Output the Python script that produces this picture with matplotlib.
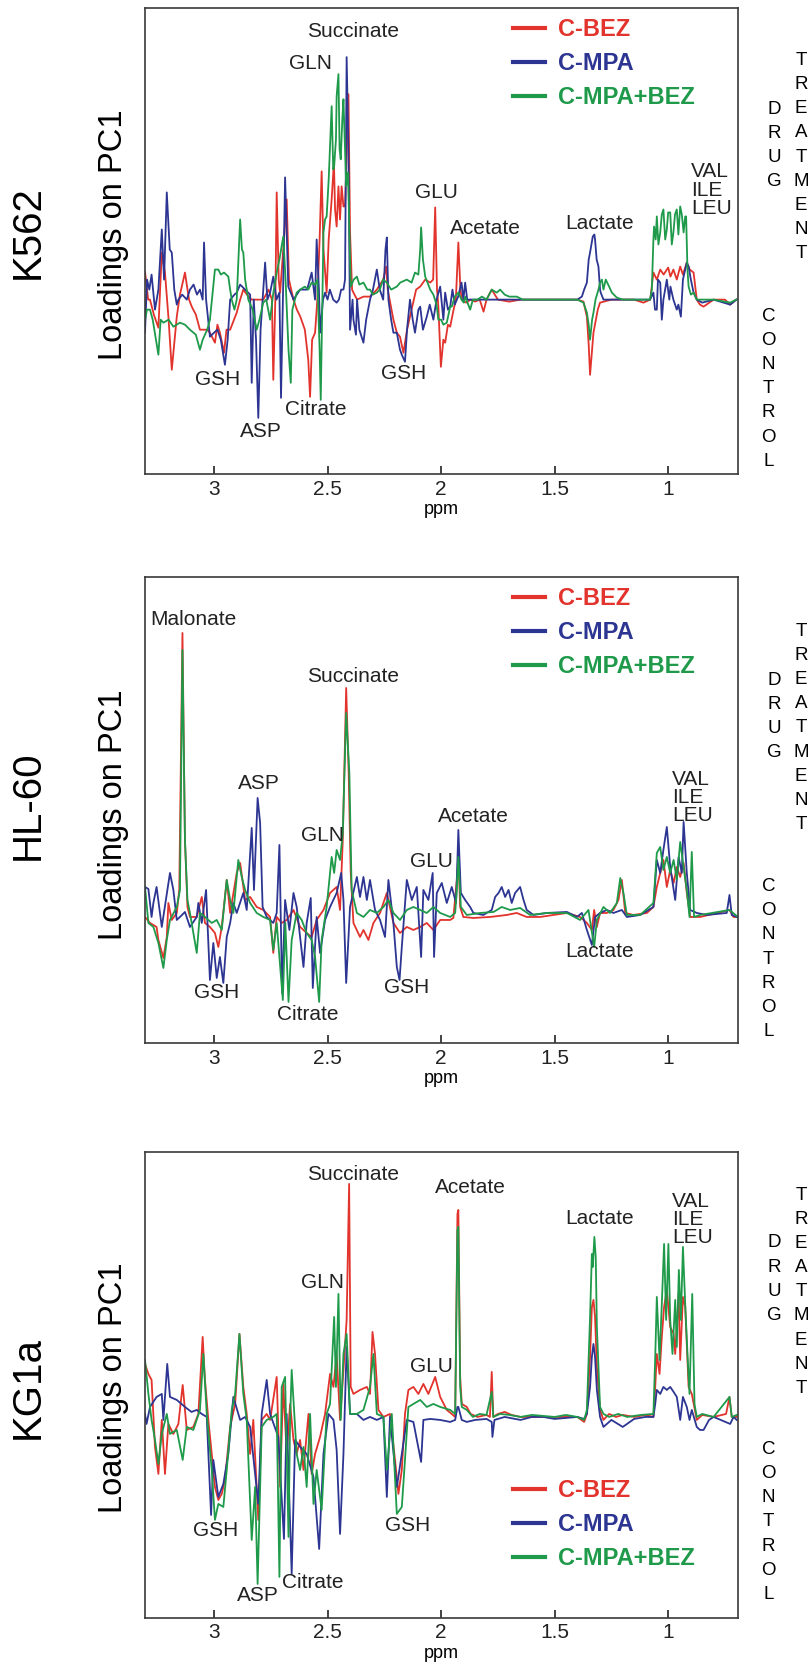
import numpy as np
import matplotlib
matplotlib.use("Agg")
import matplotlib.pyplot as plt

plt.rcParams['font.family'] = ['Liberation Sans', 'DejaVu Sans']

RED = '#e2332c'
BLUE = '#2d3592'
GREEN = '#1e9a4a'

series_names = ['C-BEZ', 'C-MPA', 'C-MPA+BEZ']
cell_lines = ['K562', 'HL-60', 'KG1a']
ppm_ticks = [3, 2.5, 2, 1.5, 1]

# loadings on PC1 (arbitrary units), as (ppm, loading)
k562_bez = [(3.304, 28), (3.29, 0), (3.282, 0), (3.265, -15), (3.245, -28), (3.230, 47), (3.216, 27), (3.2, -20),
            (3.186, -70), (3.164, -17), (3.15, 5), (3.128, 27), (3.11, 0), (3.098, -7), (3.08, -15), (3.062, -30),
            (3.03, -30), (3.018, -33), (2.996, -43), (2.985, -25), (2.974, -33), (2.956, -53), (2.945, -30),
            (2.929, -30), (2.90, -13), (2.885, 0), (2.871, 10), (2.855, 5), (2.834, 0), (2.80, 0), (2.783, 0),
            (2.76, 10), (2.745, 0), (2.739, -80), (2.730, 0), (2.724, 107), (2.715, 20), (2.709, 7), (2.695, 50),
            (2.680, 100), (2.670, 20), (2.650, 0), (2.635, -10), (2.62, -17), (2.60, -30), (2.585, -60),
            (2.577, -97), (2.568, -40), (2.555, -33), (2.545, 0), (2.535, 60), (2.526, 128), (2.518, 50),
            (2.504, 7), (2.495, 60), (2.482, 100), (2.472, 137), (2.467, 90), (2.46, 73), (2.452, 113),
            (2.445, 80), (2.438, 113), (2.430, 93), (2.423, 93), (2.415, 150), (2.408, 205), (2.401, 67),
            (2.392, 10), (2.386, 7), (2.37, 0), (2.342, 3), (2.313, 3), (2.283, 10), (2.255, 20), (2.242, 33),
            (2.235, 10), (2.21, -20), (2.195, -33), (2.181, -37), (2.166, -53), (2.15, -30), (2.137, -17),
            (2.11, 10), (2.092, 13), (2.07, 20), (2.048, 17), (2.035, 20), (2.026, 92), (2.018, 10), (2.012, -7),
            (2.001, -67), (1.99, -40), (1.982, -43), (1.97, -25), (1.960, -27), (1.945, -10), (1.935, 0),
            (1.924, 57), (1.915, 10), (1.909, 0), (1.89, -3), (1.87, 0), (1.85, -2), (1.83, 0), (1.813, -12),
            (1.80, 0), (1.777, 10), (1.75, 0), (1.70, -2), (1.65, 0), (1.60, 0), (1.50, 0), (1.40, 0),
            (1.373, -2), (1.358, -17), (1.35, -45), (1.344, -75), (1.335, -50), (1.329, -33), (1.31, -10),
            (1.30, -3), (1.25, 0), (1.2, 0), (1.15, 0), (1.109, -3), (1.079, 0), (1.065, 27), (1.05, 20),
            (1.035, 30), (1.02, 25), (1.0, 32), (0.99, 23), (0.977, 30), (0.962, 20), (0.947, 33), (0.935, 25),
            (0.918, 37), (0.905, 30), (0.888, 27), (0.874, 0), (0.86, -5), (0.844, -7), (0.80, 0), (0.75, 0),
            (0.727, -5), (0.70, 0)]
k562_mpa = [(3.304, -33), (3.295, 20), (3.285, 10), (3.275, 25), (3.26, -10), (3.245, 10), (3.230, 70),
            (3.22, 20), (3.208, 107), (3.195, 50), (3.186, 47), (3.175, 10), (3.164, -5), (3.157, 0), (3.14, 5),
            (3.12, 0), (3.106, 10), (3.09, 15), (3.075, 5), (3.062, 10), (3.05, 0), (3.044, 57), (3.035, 0),
            (3.018, -37), (3.0, -33), (2.985, -30), (2.97, -40), (2.952, -65), (2.94, -40), (2.929, 0),
            (2.91, 5), (2.900, 7), (2.885, 15), (2.863, 10), (2.841, 5), (2.834, -83), (2.825, 0), (2.815, -40),
            (2.805, -118), (2.795, -30), (2.775, 37), (2.765, 0), (2.753, 7), (2.739, 23), (2.725, 0),
            (2.712, 7), (2.705, -98), (2.695, 20), (2.687, 122), (2.673, 13), (2.650, 0), (2.621, 10),
            (2.606, 10), (2.590, 10), (2.570, 27), (2.555, 0), (2.548, 60), (2.538, 10), (2.533, -33),
            (2.52, 0), (2.511, 7), (2.50, 0), (2.49, 10), (2.475, 0), (2.46, -3), (2.45, 0), (2.44, 10),
            (2.43, 10), (2.423, 20), (2.416, 242), (2.408, 150), (2.401, -30), (2.39, 0), (2.386, -20),
            (2.375, -35), (2.37, 0), (2.36, -30), (2.342, -43), (2.33, -20), (2.313, 0), (2.30, 10),
            (2.283, 30), (2.27, 10), (2.255, 0), (2.245, 50), (2.239, 62), (2.232, 0), (2.22, -20),
            (2.210, -33), (2.195, -33), (2.181, -50), (2.173, -55), (2.159, -62), (2.15, -30), (2.137, 0),
            (2.125, -20), (2.115, -33), (2.10, -10), (2.092, -7), (2.08, -30), (2.063, -17), (2.05, -5),
            (2.034, -20), (2.02, 0), (2.004, 13), (1.99, -20), (1.982, 7), (1.97, -10), (1.960, -7), (1.95, 10),
            (1.94, -5), (1.925, 3), (1.91, 17), (1.902, 0), (1.894, 17), (1.885, 0), (1.872, 0), (1.85, 0),
            (1.80, 0), (1.70, 0), (1.60, 0), (1.50, 0), (1.40, 0), (1.380, 3), (1.37, 10), (1.358, 17),
            (1.35, 40), (1.344, 47), (1.332, 63), (1.325, 65), (1.322, 60), (1.315, 40), (1.307, 33), (1.30, 10),
            (1.297, 7), (1.285, 0), (1.2, 0), (1.15, 0), (1.08, 0), (1.065, 7), (1.058, -10), (1.05, -10),
            (1.045, 20), (1.035, 17), (1.028, -20), (1.021, 0), (1.006, 20), (0.995, 0), (0.99, 13),
            (0.977, 0), (0.962, -10), (0.955, -5), (0.944, -17), (0.935, 20), (0.918, 37), (0.91, 33),
            (0.90, 20), (0.888, 7), (0.874, 0), (0.85, -3), (0.80, 0), (0.727, -5), (0.70, 0)]
k562_combo = [(3.304, -20), (3.295, -10), (3.282, -10), (3.27, -20), (3.245, -55), (3.235, -20), (3.223, -23),
              (3.20, -20), (3.179, -27), (3.150, -23), (3.128, -25), (3.106, -30), (3.08, -35), (3.062, -50),
              (3.05, -40), (3.03, -30), (3.018, -20), (3.005, 10), (2.996, 30), (2.981, 30), (2.97, 25),
              (2.956, 27), (2.937, 23), (2.929, 10), (2.922, 0), (2.91, -10), (2.900, 0), (2.885, 80),
              (2.877, 50), (2.871, 47), (2.863, 20), (2.849, 0), (2.83, -10), (2.812, -30), (2.80, -20),
              (2.783, -3), (2.77, 0), (2.753, -20), (2.74, 5), (2.724, 27), (2.712, 40), (2.695, 63), (2.685, 20),
              (2.672, -50), (2.662, -83), (2.655, -10), (2.636, 7), (2.621, 10), (2.60, 13), (2.585, 10),
              (2.570, 17), (2.555, 15), (2.545, 20), (2.535, -50), (2.530, -100), (2.522, 10), (2.518, 67),
              (2.511, 80), (2.504, 83), (2.495, 120), (2.482, 193), (2.475, 130), (2.471, 133), (2.463, 160),
              (2.460, 203), (2.452, 225), (2.447, 150), (2.442, 140), (2.435, 180), (2.430, 200), (2.423, 150),
              (2.418, 113), (2.410, 127), (2.403, 60), (2.398, 13), (2.385, 20), (2.371, 23), (2.36, 15),
              (2.342, 17), (2.325, 10), (2.313, 10), (2.3, 5), (2.283, 7), (2.27, 10), (2.255, 20), (2.239, 17),
              (2.22, 10), (2.195, 13), (2.18, 17), (2.151, 20), (2.13, 17), (2.115, 27), (2.10, 25), (2.092, 50),
              (2.088, 72), (2.08, 40), (2.070, 23), (2.06, 17), (2.048, 10), (2.034, 5), (2.02, -5), (2.012, -20),
              (2.0, -20), (1.990, -25), (1.975, -23), (1.96, -7), (1.953, -7), (1.94, 3), (1.924, 7), (1.91, 0),
              (1.90, -3), (1.894, 3), (1.872, -10), (1.86, 0), (1.84, 0), (1.82, 3), (1.80, 0), (1.777, 10),
              (1.755, 7), (1.74, 10), (1.72, 5), (1.70, 3), (1.667, 3), (1.64, 0), (1.60, 0), (1.50, 0),
              (1.40, 0), (1.373, -3), (1.358, -13), (1.35, -25), (1.344, -40), (1.335, -20), (1.329, -13),
              (1.32, 0), (1.307, 10), (1.30, 17), (1.292, 20), (1.285, 10), (1.275, 20), (1.26, 13), (1.248, 7),
              (1.226, 2), (1.2, 0), (1.1, 0), (1.08, 0), (1.072, 10), (1.065, 60), (1.062, 73), (1.055, 60),
              (1.050, 83), (1.043, 55), (1.035, 67), (1.028, 85), (1.021, 90), (1.013, 60), (1.006, 70),
              (1.0, 87), (0.991, 87), (0.984, 55), (0.977, 67), (0.97, 85), (0.962, 90), (0.955, 65),
              (0.947, 93), (0.94, 85), (0.932, 67), (0.925, 83), (0.921, 83), (0.915, 30), (0.910, 13),
              (0.90, 5), (0.888, 7), (0.874, 0), (0.80, 0), (0.727, -3), (0.70, 0)]

hl60_bez = [(3.304, 0), (3.282, -6), (3.253, -10), (3.245, -23), (3.223, -41), (3.208, -20), (3.201, 14),
            (3.186, -3), (3.164, 4), (3.153, 27), (3.139, 284), (3.128, 77), (3.117, 10), (3.106, 0), (3.076, 0),
            (3.054, 20), (3.040, -6), (3.018, -10), (2.996, -16), (2.981, -30), (2.966, -10), (2.944, 37),
            (2.929, 4), (2.900, 44), (2.885, 54), (2.863, 17), (2.841, 20), (2.812, 10), (2.783, 7), (2.753, 0),
            (2.739, -36), (2.724, 0), (2.702, -6), (2.680, -3), (2.650, 7), (2.621, -10), (2.592, -16),
            (2.570, -20), (2.548, -3), (2.518, 7), (2.489, 24), (2.460, 30), (2.445, 7), (2.433, 77),
            (2.418, 229), (2.407, 144), (2.398, 44), (2.386, -6), (2.357, -20), (2.342, -13), (2.320, -23),
            (2.298, -6), (2.269, 4), (2.239, 24), (2.210, -6), (2.181, -16), (2.151, -10), (2.122, -13),
            (2.092, -10), (2.063, -6), (2.034, -13), (2.004, -3), (1.960, -3), (1.946, -1), (1.928, 44),
            (1.924, 64), (1.916, 10), (1.902, 0), (1.858, -1), (1.784, 0), (1.711, 2), (1.667, 4), (1.623, 0),
            (1.564, 0), (1.446, 4), (1.388, 0), (1.358, -6), (1.336, -13), (1.326, 7), (1.314, -10),
            (1.300, 4), (1.270, 4), (1.241, 7), (1.219, 17), (1.204, 37), (1.189, 4), (1.153, 2), (1.094, 4),
            (1.065, 10), (1.050, 30), (1.035, 44), (1.021, 57), (1.006, 30), (0.991, 47), (0.976, 34),
            (0.962, 50), (0.947, 40), (0.932, 54), (0.918, 24), (0.903, 0), (0.859, 0), (0.730, 7), (0.712, 0),
            (0.698, 0)]
hl60_mpa = [(3.304, 30), (3.289, 28), (3.275, 0), (3.267, 14), (3.253, 30), (3.230, -10), (3.194, 44),
            (3.179, 27), (3.164, -3), (3.150, 0), (3.128, 5), (3.106, -10), (3.076, 0), (3.069, 14), (3.054, -6),
            (3.035, 27), (3.018, -63), (3.003, -26), (2.988, -61), (2.974, -40), (2.959, -66), (2.944, -20),
            (2.929, -6), (2.915, 14), (2.900, 4), (2.871, 24), (2.856, 7), (2.834, 89), (2.824, 27),
            (2.808, 119), (2.797, 94), (2.786, 10), (2.768, 0), (2.739, -6), (2.724, 4), (2.712, 72),
            (2.700, -76), (2.687, 17), (2.668, -13), (2.650, 24), (2.636, 10), (2.606, -50), (2.592, -6),
            (2.574, 19), (2.565, -71), (2.548, 0), (2.533, -36), (2.511, -3), (2.489, 10), (2.460, 24),
            (2.440, 44), (2.430, 17), (2.418, -66), (2.401, 10), (2.371, 40), (2.357, 20), (2.342, 40),
            (2.327, 17), (2.313, 37), (2.291, 7), (2.269, -3), (2.247, -20), (2.232, 37), (2.210, -6),
            (2.195, -50), (2.183, -63), (2.173, -30), (2.151, 37), (2.129, 17), (2.107, 30), (2.088, -40),
            (2.078, 27), (2.056, 17), (2.037, 44), (2.031, -40), (2.019, 24), (1.997, 34), (1.975, 14),
            (1.953, 30), (1.934, 14), (1.924, 87), (1.913, 24), (1.894, 17), (1.872, 10), (1.858, 4),
            (1.814, 2), (1.777, 7), (1.762, 20), (1.747, 24), (1.733, 30), (1.718, 20), (1.703, 27), (1.689, 14),
            (1.674, 24), (1.652, 30), (1.637, 17), (1.623, 7), (1.593, 2), (1.534, 4), (1.446, 5), (1.402, 0),
            (1.380, 4), (1.358, -13), (1.336, -28), (1.322, 0), (1.300, 4), (1.270, 7), (1.241, 4), (1.204, 7),
            (1.182, 0), (1.123, 2), (1.065, 10), (1.050, 57), (1.035, 44), (1.021, 67), (1.006, 90),
            (0.991, 50), (0.969, 17), (0.954, 60), (0.940, 44), (0.932, 95), (0.918, 44), (0.903, 7),
            (0.874, 4), (0.830, 2), (0.742, 4), (0.730, 22), (0.720, 2), (0.698, 0)]
hl60_combo = [(3.304, 30), (3.289, -6), (3.267, -10), (3.245, -26), (3.223, -51), (3.208, -23), (3.194, -3),
              (3.164, 10), (3.150, 27), (3.139, 267), (3.128, 77), (3.117, 17), (3.106, 4), (3.076, -36),
              (3.062, 4), (3.040, 0), (3.010, -6), (2.988, -3), (2.966, -13), (2.944, 37), (2.929, 17),
              (2.915, 4), (2.893, 57), (2.878, 40), (2.863, 27), (2.841, 14), (2.812, 4), (2.783, 0),
              (2.753, -3), (2.739, -33), (2.724, -6), (2.697, -83), (2.686, -6), (2.672, -85), (2.658, -23),
              (2.636, 4), (2.614, -3), (2.592, -16), (2.570, -23), (2.555, -40), (2.537, -85), (2.526, -23),
              (2.504, 10), (2.482, 60), (2.471, 44), (2.460, 67), (2.445, 57), (2.433, 84), (2.418, 204),
              (2.404, 144), (2.394, 27), (2.371, 4), (2.342, 0), (2.313, 7), (2.283, 4), (2.254, 10),
              (2.232, 17), (2.210, 4), (2.181, -3), (2.151, 7), (2.122, 10), (2.092, 7), (2.063, 4), (2.034, 10),
              (2.004, 4), (1.960, 0), (1.938, 4), (1.931, 27), (1.924, 60), (1.913, 10), (1.887, 2), (1.828, 4),
              (1.769, 5), (1.733, 10), (1.696, 7), (1.652, 9), (1.608, 2), (1.534, 4), (1.446, 4), (1.388, -3),
              (1.351, 7), (1.326, -30), (1.314, -3), (1.285, 10), (1.256, 4), (1.226, 14), (1.211, 39),
              (1.197, 24), (1.182, 2), (1.123, 2), (1.065, 14), (1.050, 64), (1.035, 70), (1.021, 47),
              (1.006, 60), (0.991, 44), (0.976, 57), (0.962, 37), (0.947, 75), (0.932, 50), (0.918, 27),
              (0.906, 0), (0.896, 65), (0.886, 0), (0.859, 2), (0.730, 7), (0.698, 1)]

kg1a_bez = [(3.304, 53), (3.289, 43), (3.275, 37), (3.260, -30), (3.245, -57), (3.230, -3), (3.216, -57),
            (3.201, -7), (3.179, -17), (3.157, -7), (3.138, 32), (3.120, -13), (3.091, -10), (3.069, 3),
            (3.050, 80), (3.040, 37), (3.025, -3), (3.010, -37), (2.996, -70), (2.981, -83), (2.966, -77),
            (2.952, -63), (2.929, -10), (2.907, 13), (2.888, 83), (2.871, 30), (2.856, 3), (2.841, -37),
            (2.827, -3), (2.805, -103), (2.790, -3), (2.768, 3), (2.753, -3), (2.724, 40), (2.709, -70),
            (2.695, 33), (2.680, -37), (2.665, 13), (2.650, -23), (2.636, -37), (2.621, -23), (2.606, -53),
            (2.584, 3), (2.570, -57), (2.555, -37), (2.533, -20), (2.511, 3), (2.489, 43), (2.474, 30),
            (2.460, 63), (2.445, -3), (2.430, 47), (2.416, 97), (2.405, 233), (2.398, 30), (2.386, 23),
            (2.357, 27), (2.327, 30), (2.313, 23), (2.302, 85), (2.291, 63), (2.276, 7), (2.254, 0), (2.225, 3),
            (2.203, -43), (2.188, -77), (2.173, -53), (2.159, 3), (2.144, 27), (2.122, 30), (2.100, 23),
            (2.078, 33), (2.056, 23), (2.026, 40), (2.004, 20), (1.975, 7), (1.953, 3), (1.938, 0),
            (1.928, 203), (1.924, 207), (1.916, 40), (1.909, 13), (1.887, 10), (1.87, 3), (1.84, 0), (1.80, 2),
            (1.785, 0), (1.777, 45), (1.770, 0), (1.75, 3), (1.72, 5), (1.69, 2), (1.65, 0), (1.60, 0),
            (1.50, 0), (1.40, 0), (1.37, -5), (1.358, 3), (1.344, 60), (1.336, 110), (1.329, 117),
            (1.322, 100), (1.314, 50), (1.300, 7), (1.285, -3), (1.26, 3), (1.23, 0), (1.20, 2), (1.15, 0),
            (1.10, 2), (1.065, 0), (1.057, 30), (1.050, 63), (1.038, 43), (1.028, 80), (1.018, 110),
            (1.006, 127), (0.991, 90), (0.976, 83), (0.969, 63), (0.954, 123), (0.947, 57), (0.935, 120),
            (0.925, 110), (0.910, 30), (0.896, 23), (0.874, -3), (0.85, 2), (0.80, 0), (0.745, 3), (0.730, 20),
            (0.720, 0), (0.698, 0)]
kg1a_mpa = [(3.304, 3), (3.297, -7), (3.282, 10), (3.253, 20), (3.230, 23), (3.223, -3), (3.206, 53),
            (3.194, 20), (3.164, 17), (3.128, 10), (3.099, 5), (3.076, 7), (3.054, 3), (3.032, 0), (3.013, -98),
            (3.003, -43), (2.981, -80), (2.959, -67), (2.937, -37), (2.915, 20), (2.885, -3), (2.863, 0),
            (2.841, -10), (2.805, -87), (2.790, 3), (2.768, 37), (2.753, 3), (2.717, -20), (2.692, -122),
            (2.680, 3), (2.658, -157), (2.643, -23), (2.621, -30), (2.592, -37), (2.562, -60), (2.537, -132),
            (2.518, -37), (2.496, 3), (2.474, -3), (2.460, -33), (2.445, -117), (2.430, -37), (2.416, 70),
            (2.401, 3), (2.371, 3), (2.342, -3), (2.313, 0), (2.283, -3), (2.254, 0), (2.239, -80), (2.225, 0),
            (2.195, -70), (2.173, -37), (2.151, -3), (2.122, -5), (2.088, -45), (2.078, -3), (2.048, -2),
            (2.004, -3), (1.960, -5), (1.938, -3), (1.928, 10), (1.924, 10), (1.909, -3), (1.887, -5),
            (1.85, -3), (1.80, -2), (1.777, -5), (1.774, -20), (1.765, -3), (1.72, 0), (1.65, -3), (1.60, 0),
            (1.55, 0), (1.50, -2), (1.40, 0), (1.37, -2), (1.358, 3), (1.344, 30), (1.336, 60), (1.329, 73),
            (1.322, 60), (1.314, 27), (1.300, 0), (1.285, -10), (1.25, -3), (1.20, -10), (1.15, -2), (1.10, 0),
            (1.065, 0), (1.057, 13), (1.050, 27), (1.035, 23), (1.021, 30), (1.006, 27), (0.991, 30),
            (0.976, 25), (0.962, 20), (0.947, -3), (0.935, 20), (0.918, 10), (0.906, -3), (0.896, 7),
            (0.874, -10), (0.860, -13), (0.844, -13), (0.82, -3), (0.80, 0), (0.727, -7), (0.712, 0),
            (0.698, -3)]
kg1a_combo = [(3.304, 57), (3.289, 23), (3.275, -3), (3.260, -23), (3.245, -47), (3.230, -17), (3.208, 3),
              (3.194, -17), (3.164, -13), (3.138, -43), (3.120, -10), (3.091, -13), (3.062, 7), (3.047, 63),
              (3.032, 3), (3.010, -53), (2.996, -103), (2.981, -87), (2.959, -90), (2.944, -53), (2.922, 7),
              (2.907, 23), (2.888, 83), (2.871, 23), (2.856, -3), (2.834, -123), (2.819, -70), (2.808, -167),
              (2.790, -10), (2.768, -3), (2.739, 0), (2.724, 3), (2.712, -160), (2.702, 30), (2.687, 40),
              (2.672, -120), (2.665, -3), (2.658, 47), (2.636, -37), (2.621, -53), (2.606, -30), (2.592, -70),
              (2.577, 3), (2.562, -87), (2.548, -53), (2.526, -93), (2.504, 3), (2.489, 13), (2.471, 100),
              (2.463, 30), (2.452, 123), (2.442, -3), (2.430, 63), (2.416, 83), (2.401, 3), (2.371, 3),
              (2.342, 7), (2.313, 30), (2.298, 63), (2.283, 3), (2.254, 0), (2.239, -53), (2.217, 3),
              (2.195, -97), (2.173, -90), (2.159, -43), (2.144, 10), (2.122, 13), (2.092, 17), (2.063, 10),
              (2.034, 13), (2.004, 10), (1.960, 7), (1.938, 3), (1.928, 187), (1.924, 190), (1.916, 30),
              (1.909, 10), (1.887, 7), (1.86, 0), (1.83, 3), (1.80, 2), (1.777, 25), (1.770, 0), (1.74, 3),
              (1.70, 2), (1.65, 0), (1.60, 2), (1.50, 0), (1.45, 2), (1.40, 0), (1.37, -3), (1.358, 7),
              (1.344, 100), (1.336, 163), (1.332, 150), (1.325, 180), (1.319, 160), (1.314, 90), (1.300, 10),
              (1.285, 3), (1.26, 0), (1.22, 3), (1.18, 0), (1.12, 2), (1.065, 3), (1.057, 60), (1.050, 120),
              (1.038, 57), (1.028, 113), (1.018, 173), (1.009, 97), (0.999, 173), (0.991, 97), (0.981, 63),
              (0.969, 117), (0.962, 70), (0.953, 147), (0.944, 97), (0.935, 170), (0.925, 113), (0.915, 63),
              (0.906, 23), (0.894, 123), (0.884, 13), (0.874, 0), (0.85, 3), (0.80, 0), (0.73, 20), (0.72, 0),
              (0.698, 2)]

# metabolite labels: (text, ppm, loading)
k562_labels = [('Succinate', 2.389, 268), ('GLN', 2.573, 236), ('GLU', 2.019, 107), ('Acetate', 1.806, 71),
               ('GSH', 2.982, -80), ('ASP', 2.793, -132), ('Citrate', 2.552, -110), ('GSH', 2.167, -74),
               ('Lactate', 1.300, 76)]
hl60_labels = [('Malonate', 3.092, 297), ('Succinate', 2.389, 240), ('ASP', 2.802, 133), ('GLN', 2.521, 81),
               ('GLU', 2.041, 55), ('Acetate', 1.859, 100), ('GSH', 2.988, -76), ('Citrate', 2.589, -98),
               ('GSH', 2.150, -71), ('Lactate', 1.300, -35)]
kg1a_labels = [('Succinate', 2.389, 242), ('Acetate', 1.872, 229), ('GLN', 2.521, 134), ('GLU', 2.041, 50),
               ('Lactate', 1.300, 198), ('GSH', 2.991, -114), ('GSH', 2.148, -109), ('ASP', 2.805, -179),
               ('Citrate', 2.565, -166)]
# VAL / ILE / LEU block: (left ppm, loading of VAL line)
bcaa_pos = [(0.899, 137), (0.984, 147), (0.982, 225)]

panels = [
    dict(name='K562', data=[k562_bez, k562_mpa, k562_combo], labels=k562_labels, ylim=(-174, 291),
         bottom=0.716, leg_y=0.978, name_y=0.52, ylab_y=0.513, side_y=(0.705, 0.68, 0.183)),
    dict(name='HL-60', data=[hl60_bez, hl60_mpa, hl60_combo], labels=hl60_labels, ylim=(-126, 340),
         bottom=0.3751, leg_y=0.978, name_y=0.51, ylab_y=0.49, side_y=(0.70, 0.676, 0.18)),
    dict(name='KG1a', data=[kg1a_bez, kg1a_mpa, kg1a_combo], labels=kg1a_labels, ylim=(-201, 265),
         bottom=0.0306, leg_y=0.298, name_y=0.495, ylab_y=0.495, side_y=(0.727, 0.70, 0.206)),
]

colors = [RED, BLUE, GREEN]
fig = plt.figure(figsize=(8.12, 16.69), dpi=100)

for i, p in enumerate(panels):
    ax = fig.add_axes([0.178, p['bottom'], 0.731, 0.2792])
    handles = []
    for series, col, nm in zip(p['data'], colors, series_names):
        arr = np.array(series, dtype=float)
        ln, = ax.plot(arr[:, 0], arr[:, 1], color=col, lw=1.3, label=nm)
        handles.append(ln)
    ax.set_xlim(3.306, 0.692)
    ax.set_ylim(*p['ylim'])
    ax.set_xticks(ppm_ticks)
    ax.set_xticklabels([('%g' % t) for t in ppm_ticks])
    ax.set_yticks([])
    ax.tick_params(axis='x', direction='in', length=6, width=1.2, labelsize=15, pad=4, colors='#222222')
    for s in ax.spines.values():
        s.set_color('#3a3a3a')
        s.set_linewidth(1.2)
    ax.set_xlabel('ppm', fontsize=13, labelpad=2)
    ax.set_ylabel('Loadings on PC1', fontsize=23.5)
    ax.yaxis.set_label_coords(-0.026, p['ylab_y'])
    ax.text(-0.196, p['name_y'], p['name'], transform=ax.transAxes, rotation=90, fontsize=29,
            ha='center', va='center')

    for txt, x, y in p['labels']:
        ax.text(x, y, txt, fontsize=15, ha='center', va='center', color='#222222')
    bx, by = bcaa_pos[i]
    ax.text(bx, by, 'VAL\nILE\nLEU', fontsize=15, ha='left', va='top', linespacing=0.95,
            color='#222222')

    leg = ax.legend(handles=handles, loc='upper left', bbox_to_anchor=(0.621, p['leg_y']),
                    frameon=False, borderpad=0, borderaxespad=0, handlelength=1.36,
                    handletextpad=0.55, labelspacing=0.46,
                    prop={'weight': 'bold', 'size': 17}, labelcolor='linecolor')
    for h in leg.legend_handles:
        h.set_linewidth(3)

    dy, ty, cy = p['side_y']
    ax.text(1.061, dy, '\n'.join('DRUG'), transform=ax.transAxes, fontsize=13.5,
            ha='center', va='center', linespacing=1.55)
    ax.text(1.106, ty, '\n'.join('TREATMENT'), transform=ax.transAxes, fontsize=13.5,
            ha='center', va='center', linespacing=1.55)
    ax.text(1.051, cy, '\n'.join('CONTROL'), transform=ax.transAxes, fontsize=13.5,
            ha='center', va='center', linespacing=1.55)

fig.savefig('out.png', dpi=100)
